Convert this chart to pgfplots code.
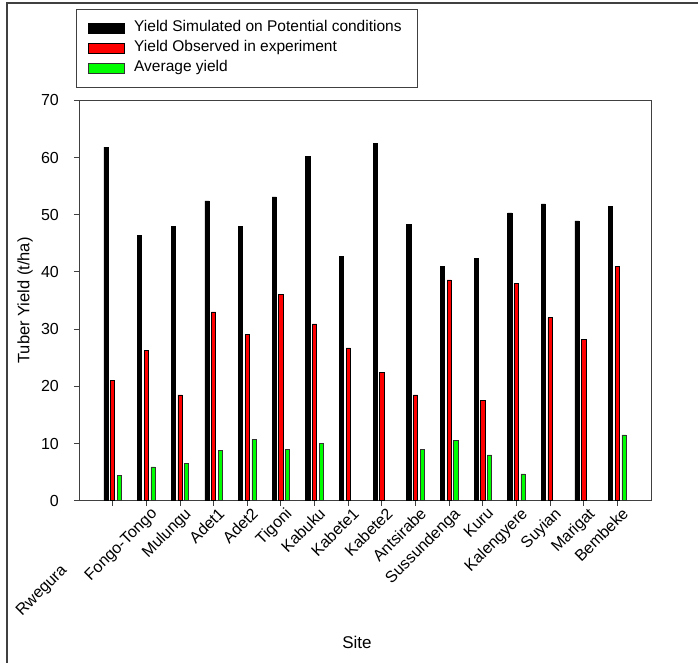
\documentclass[border=0pt]{standalone}
\usepackage{fontspec}
\setmainfont{Liberation Sans}
\usepackage{pgfplots}
\pgfplotsset{compat=1.18}

\definecolor{simblack}{HTML}{000000}
\definecolor{obsred}{HTML}{FF0000}
\definecolor{avggreen}{HTML}{00FF00}
\definecolor{framegray}{HTML}{404040}

\begin{document}
\begin{tikzpicture}[x=1pt,y=1pt]
\useasboundingbox (0,0) rectangle (698,663);
% outer frame of the figure
\draw[line width=1.6pt, framegray] (7,-20) -- (7,660) -- (720,660);
\begin{axis}[
  at={(79pt,162.3pt)}, anchor=south west,
  scale only axis, width=572pt, height=400.4pt,
  ymin=0, ymax=70, ytick={0,10,...,70},
  xmin=-1, xmax=16,
  xtick={0,...,15},
  xticklabels={Rwegura\hspace*{80pt}\null, Fongo-Tongo, Mulungu, Adet1, Adet2, Tigoni, Kabuku, Kabete1, Kabete2, Antsirabe, Sussundenga, Kuru, Kalengyere, Suyian, Marigat, Bembeke},
  tick pos=left, tick align=outside,
  major tick length=5pt,
  every tick/.style={framegray, line width=0.8pt},
  axis line style={framegray, line width=0.9pt},
  /pgf/number format/assume math mode=true,
  ticklabel style={font=\fontsize{16}{18}\selectfont},
  xticklabel style={rotate=45, anchor=north east, inner sep=0pt, xshift=2pt, yshift=-3pt},
  yticklabel style={inner sep=0pt, xshift=-15pt},
  ylabel={Tuber Yield (t/ha)},
  ylabel style={at={(axis description cs:-0.0944,0.5)}, anchor=center, font=\fontsize{16.5}{18}\selectfont},
  xlabel={Site},
  xlabel style={at={(axis description cs:0.486,-0.355)}, anchor=center, font=\fontsize{17}{19}\selectfont},
  ybar=2.47pt, bar width=4.2pt,
  legend style={at={(axis description cs:-0.005,1.228)}, anchor=north west,
    draw=framegray, line width=0.9pt, inner xsep=11pt, inner ysep=12pt,
    font=\fontsize{15.5}{18}\selectfont,
    nodes={inner sep=0pt, text height=10.5pt, text depth=3.5pt},
    row sep=6pt,
    /tikz/every odd column/.append style={column sep=10pt}},
  legend cell align=left,
  legend image code/.code={\draw[#1, line width=0.6pt] (0pt,-5pt) rectangle (36pt,5pt);},
]
\addplot[fill=simblack, draw=black, line width=0.6pt] coordinates {
  (0,61.8) (1,46.4) (2,48.0) (3,52.4) (4,48.0) (5,53.1) (6,60.2) (7,42.7)
  (8,62.5) (9,48.3) (10,41.0) (11,42.4) (12,50.3) (13,51.9) (14,48.9) (15,51.4)};
\addlegendentry{Yield Simulated on Potential conditions\hspace*{5pt}}
\addplot[fill=obsred, draw=black, line width=0.6pt] coordinates {
  (0,21.0) (1,26.3) (2,18.5) (3,33.0) (4,29.1) (5,36.0) (6,30.9) (7,26.7)
  (8,22.4) (9,18.5) (10,38.6) (11,17.5) (12,38.0) (13,32.0) (14,28.2) (15,40.9)};
\addlegendentry{Yield Observed in experiment}
\addplot[fill=avggreen, draw=black!80, line width=0.6pt] coordinates {
  (0,4.4) (1,5.9) (2,6.5) (3,8.8) (4,10.7) (5,9.0) (6,10.0)
  (9,9.0) (10,10.5) (11,8.0) (12,4.7) (15,11.5)};
\addlegendentry{Average yield}
\end{axis}
\end{tikzpicture}
\end{document}
